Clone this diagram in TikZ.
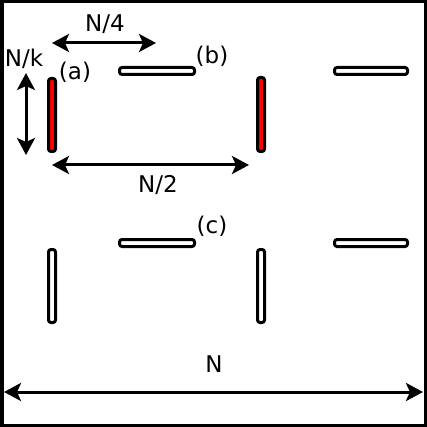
\documentclass[tikz,border=0pt]{standalone}
\usepackage{fontspec}
\setmainfont{DejaVu Sans}
\usetikzlibrary{arrows.meta}
\begin{document}
\begin{tikzpicture}[x=1pt,y=-1pt,
  bar/.style={draw=black,line width=3pt,rounded corners=2.5pt},
  dim/.style={line width=3pt,{Stealth[length=17pt,width=18pt,inset=4pt]}-{Stealth[length=17pt,width=18pt,inset=4pt]}},
  lbl/.style={font=\fontsize{23}{27}\selectfont,inner sep=0pt,anchor=base}]
\useasboundingbox (0,0) rectangle (427,427);
\draw[line width=3.5pt] (1.75,1.75) rectangle (425.25,425.25);
% bars
\draw[bar,fill=red]   (48.5,78.5) rectangle (55.5,151.5);
\draw[bar,fill=red]   (257.5,77.5) rectangle (264.5,151.5);
\draw[bar,fill=white] (119.5,67.5) rectangle (194.5,74.5);
\draw[bar,fill=white] (334.5,67.5) rectangle (407.5,74.5);
\draw[bar,fill=white] (119.5,239.5) rectangle (194.5,246.5);
\draw[bar,fill=white] (334.5,239.5) rectangle (407.5,246.5);
\draw[bar,fill=white] (48.5,249.5) rectangle (55.5,322.5);
\draw[bar,fill=white] (257.5,249.5) rectangle (264.5,322.5);
% dimension coordinates
\coordinate (q1) at (52,43);  \coordinate (q2) at (156,43);
\coordinate (k1) at (26,73);  \coordinate (k2) at (26,155);
\coordinate (h1) at (52,165); \coordinate (h2) at (249,165);
\coordinate (n1) at (4,392);  \coordinate (n2) at (423,392);
\draw[dim] (q1) -- (q2);
\draw[dim] (k1) -- (k2);
\draw[dim] (h1) -- (h2);
\draw[dim] (n1) -- (n2);
% labels
\node[lbl] (tq) at (105,32) {N/4};
\node[lbl] (tk) at (24,67) {N/k};
\node[lbl] (th) at (158,193) {N/2};
\node[lbl] (tn) at (214,372) {N};
\node[lbl] (ta) at (75,80) {(a)};
\node[lbl] (tb) at (212,64) {(b)};
\node[lbl] (tc) at (212,233) {(c)};
\end{tikzpicture}
\end{document}
